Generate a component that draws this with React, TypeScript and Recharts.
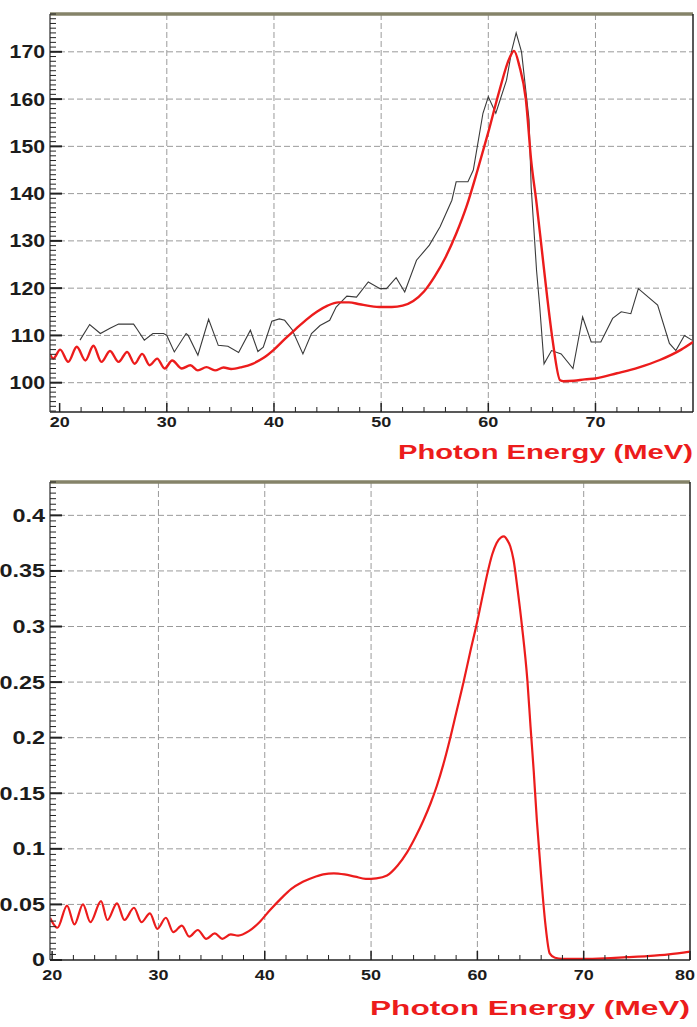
import React from 'react';
import { LineChart, Line, XAxis, YAxis, CartesianGrid, ReferenceLine } from 'recharts';

// upper panel: measured spectrum (black) vs simulated (red), counts
const measured: [number, number][] = [
    [21.9, 109.0], [22.8, 112.3], [23.8, 110.4], [24.7, 111.5], [25.5, 112.4], [26.9, 112.4],
    [27.2, 111.4], [27.9, 109.0], [28.7, 110.4], [29.7, 110.4], [30.0, 110.0], [30.7, 106.5],
    [31.8, 110.4], [32.0, 110.0], [32.9, 105.8], [33.9, 113.4], [34.8, 107.9], [35.7, 107.7],
    [36.7, 106.4], [37.8, 111.1], [38.5, 106.6], [39.0, 107.5], [39.8, 113.0], [40.5, 113.5],
    [41.0, 113.2], [41.7, 111.2], [42.7, 106.1], [43.5, 110.4], [44.3, 112.1], [45.2, 113.2],
    [45.8, 116.0], [46.8, 118.3], [47.7, 118.1], [48.8, 121.3], [49.9, 119.9], [50.5, 119.9],
    [51.4, 122.2], [52.2, 119.2], [53.3, 125.9], [54.5, 129.1], [55.5, 133.0], [56.6, 138.6],
    [57.0, 142.5], [58.1, 142.5], [58.6, 145.0], [59.5, 157.0], [60.0, 160.5], [60.7, 157.0],
    [61.7, 164.0], [62.2, 170.4], [62.6, 174.0], [63.1, 170.0], [63.8, 155.6], [64.0, 141.4],
    [64.5, 123.8], [64.8, 116.0], [65.2, 104.0], [65.9, 106.8], [66.8, 106.1], [67.9, 103.0],
    [68.8, 113.9], [69.6, 108.6], [70.5, 108.6], [71.6, 113.6], [72.4, 115.0], [73.3, 114.6],
    [74.0, 119.9], [75.8, 116.4], [76.9, 108.3], [77.5, 106.8], [78.3, 110.0], [79.0, 109.0],
];

const simulatedTop: [number, number][] = [
    [19.1, 106.0], [19.4, 105.1], [20.05, 107.0], [20.8, 104.4], [21.6, 107.6], [22.4, 104.7],
    [23.15, 107.8], [23.9, 104.4], [24.7, 106.7], [25.5, 104.4], [26.3, 106.5], [27.0, 104.0],
    [27.7, 106.1], [28.4, 103.7], [29.1, 105.1], [29.8, 103.0], [30.5, 104.7], [31.4, 103.0],
    [32.2, 103.7], [32.9, 102.6], [33.7, 103.3], [34.5, 102.6], [35.3, 103.2], [36.0, 102.9],
    [37.0, 103.3], [38.0, 104.0], [39.0, 105.2], [40.0, 107.0], [41.0, 109.2], [42.0, 111.3],
    [43.0, 113.3], [44.0, 115.0], [45.0, 116.3], [46.0, 117.0], [47.0, 117.0], [48.0, 116.6],
    [49.0, 116.2], [50.0, 116.0], [51.0, 116.0], [52.0, 116.3], [53.0, 117.3], [54.0, 119.3],
    [55.0, 122.5], [56.0, 126.5], [57.0, 131.5], [58.0, 137.5], [59.0, 145.0], [60.0, 153.0],
    [61.0, 161.5], [62.0, 168.8], [62.4, 170.2], [62.9, 167.0], [63.5, 160.0], [64.0, 147.0],
    [64.5, 138.0], [65.0, 128.0], [65.5, 118.0], [66.0, 109.0], [66.7, 100.5], [67.0, 100.3],
    [68.0, 100.4], [69.0, 100.7], [70.0, 100.9], [72.0, 102.0], [74.0, 103.2], [76.0, 104.8],
    [78.0, 107.0], [79.1, 108.6],
];

// lower panel: simulated spectrum, probability
const simulatedBottom: [number, number][] = [
    [19.8, 0.038], [20.5, 0.029], [21.4, 0.049], [22.1, 0.032], [22.9, 0.050], [23.6, 0.034],
    [24.6, 0.053], [25.2, 0.036], [26.1, 0.051], [26.8, 0.036], [27.7, 0.047], [28.4, 0.034],
    [29.2, 0.042], [29.9, 0.028], [30.7, 0.038], [31.4, 0.025], [32.2, 0.031], [32.9, 0.021],
    [33.7, 0.027], [34.5, 0.019], [35.3, 0.024], [36.0, 0.019], [36.8, 0.023], [37.5, 0.022],
    [38.5, 0.026], [39.5, 0.034], [40.5, 0.045], [41.5, 0.055], [42.5, 0.064], [43.5, 0.070],
    [44.5, 0.074], [45.5, 0.077], [46.5, 0.078], [47.5, 0.077], [48.5, 0.075], [49.5, 0.073],
    [50.5, 0.0735], [51.5, 0.076], [52.5, 0.085], [53.4, 0.097], [54.2, 0.111], [54.9, 0.125],
    [55.6, 0.141], [56.2, 0.157], [56.8, 0.176], [57.4, 0.198], [58.0, 0.222], [58.7, 0.250],
    [59.3, 0.276], [60.0, 0.305], [60.5, 0.328], [60.9, 0.346], [61.4, 0.365], [61.8, 0.375],
    [62.2, 0.380], [62.5, 0.381], [62.8, 0.378], [63.1, 0.372], [63.4, 0.360], [63.8, 0.332],
    [64.2, 0.300], [64.7, 0.252], [65.0, 0.210], [65.3, 0.170], [65.6, 0.125], [66.0, 0.075],
    [66.4, 0.032], [66.8, 0.006], [67.3, 0.002], [68.0, 0.001], [70.0, 0.001], [72.0, 0.0015],
    [74.0, 0.0025], [76.0, 0.0035], [78.0, 0.005], [80.0, 0.0075],
];

const topXTicks = [20, 30, 40, 50, 60, 70];
const topYTicks = [100, 110, 120, 130, 140, 150, 160, 170];
const bottomXTicks = [20, 30, 40, 50, 60, 70, 80];
const bottomYTicks = [0, 0.05, 0.1, 0.15, 0.2, 0.25, 0.3, 0.35, 0.4];
const gridX = [30, 40, 50, 60, 70];
const axisTitle = 'Photon Energy (MeV)';

const toPoints = (rows: [number, number][]) => rows.map(([e, v]) => ({ e, v }));

// minor tick positions (ROOT-style subdivisions)
const steps = (from: number, to: number, step: number) => {
    const out: number[] = [];
    for (let i = 0; from + i * step <= to + 1e-9; i++) out.push(+(from + i * step).toFixed(4));
    return out;
};

const FONT = '"Liberation Sans", Arial, Helvetica, sans-serif';
const RED = '#ec1c1c';
const FRAME_TOP = '#858369';

const isMajor = (list: number[], v: number) => list.some(m => Math.abs(m - v) < 1e-6);

// tick line drawn inward + wide bold label for majors
const makeYTick = (majors: number[], stretch: number) =>
    // eslint-disable-next-line @typescript-eslint/no-explicit-any
    (props: any) => {
        const { x, y, payload } = props;
        const major = isMajor(majors, payload.value);
        return (
            <g>
                <line x1={x} x2={x + (major ? 12 : 6)} y1={y} y2={y} stroke="#222" strokeWidth={major ? 2 : 1} />
                {major && (
                    <g transform={`translate(${x - 5},${y}) scale(${stretch},1)`}>
                        <text x={0} y={0} dy="0.36em" textAnchor="end" fontSize={18} fontWeight="bold"
                            fontFamily={FONT} fill="#1c1c1c">{String(payload.value)}</text>
                    </g>
                )}
            </g>
        );
    };

const makeXTick = (majors: number[], gap: number, rightEdge: number) =>
    // eslint-disable-next-line @typescript-eslint/no-explicit-any
    (props: any) => {
        const { x, y, payload } = props;
        const major = isMajor(majors, payload.value);
        // keep a label that would run past the page edge inside it
        const tx = Math.min(x, rightEdge - 12);
        return (
            <g>
                <line x1={x} x2={x} y1={y} y2={y - (major ? 9 : 5)} stroke="#222" strokeWidth={major ? 1.5 : 1} />
                {major && (
                    <g transform={`translate(${tx},${y + gap}) scale(1.2,1)`}>
                        <text x={0} y={0} dy="0.36em" textAnchor="middle" fontSize={15} fontWeight="bold"
                            fontFamily={FONT} fill="#1c1c1c">{String(payload.value)}</text>
                    </g>
                )}
            </g>
        );
    };

interface PanelProps {
    top: number;
    height: number;
    marginTop: number;
    marginRight: number;
    xAxisHeight: number;
    xDomain: [number, number];
    yDomain: [number, number];
    xTicks: number[];
    yTicks: number[];
    xMinor: number[];
    yMinor: number[];
    xLabelGap: number;
    yStretch: number;
    children: React.ReactNode;
}

const Panel: React.FC<PanelProps> = (p) => (
    <div style={{ position: 'absolute', left: 0, top: p.top }}>
        <LineChart width={697} height={p.height} margin={{ top: p.marginTop, right: p.marginRight, bottom: 0, left: 0 }}>
            <CartesianGrid stroke="#9a9a9a" strokeDasharray="6 3"
                horizontalValues={p.yTicks.filter(t => t > p.yDomain[0] + 1e-6)} verticalValues={gridX} />
            <XAxis dataKey="e" type="number" domain={p.xDomain} allowDataOverflow ticks={p.xMinor}
                height={p.xAxisHeight} tickSize={0} tickMargin={0} tickLine={false}
                axisLine={{ stroke: '#222', strokeWidth: 1.5 }} tick={makeXTick(p.xTicks, p.xLabelGap, 697)} interval={0} />
            <YAxis type="number" domain={p.yDomain} allowDataOverflow ticks={p.yMinor}
                width={50} tickSize={0} tickMargin={0} tickLine={false}
                axisLine={{ stroke: '#555', strokeWidth: 1.5 }} tick={makeYTick(p.yTicks, p.yStretch)} interval={0} />
            {/* frame: olive top edge, thin right edge */}
            <ReferenceLine y={p.yDomain[1]} stroke={FRAME_TOP} strokeWidth={3.5} />
            <ReferenceLine x={p.xDomain[1]} stroke="#222" strokeWidth={1.5} />
            {p.children}
        </LineChart>
    </div>
);

export default function App() {
    return (
        <div style={{ position: 'absolute', left: 0, top: 0, width: 697, height: 1027, background: '#fff' }}>
            <Panel top={0} height={440} marginTop={14} marginRight={4} xAxisHeight={28}
                xDomain={[19.1, 79.1]} yDomain={[93.8, 178]} xTicks={topXTicks} yTicks={topYTicks}
                xMinor={steps(20, 78, 2)} yMinor={steps(94, 178, 1)} xLabelGap={10} yStretch={1.18}>
                <Line data={toPoints(measured)} dataKey="v" type="linear" stroke="#3a3a3a" strokeWidth={1.1}
                    dot={false} isAnimationActive={false} />
                <Line data={toPoints(simulatedTop)} dataKey="v" type="monotone" stroke={RED} strokeWidth={2.4}
                    dot={false} isAnimationActive={false} />
            </Panel>
            <Panel top={470} height={557} marginTop={12} marginRight={7} xAxisHeight={67}
                xDomain={[19.8, 80]} yDomain={[0, 0.43]} xTicks={bottomXTicks} yTicks={bottomYTicks}
                xMinor={steps(20, 80, 2)} yMinor={steps(0, 0.43, 0.005)} xLabelGap={15} yStretch={1.3}>
                <Line data={toPoints(simulatedBottom)} dataKey="v" type="monotone" stroke={RED} strokeWidth={2.2}
                    dot={false} isAnimationActive={false} />
            </Panel>
            <svg width={697} height={1027} style={{ position: 'absolute', left: 0, top: 0, pointerEvents: 'none' }}>
                <text x={693} y={459} textAnchor="end" fontSize={20} fontWeight="bold" fontFamily={FONT}
                    fill={RED} textLength={295} lengthAdjust="spacingAndGlyphs">{axisTitle}</text>
                <text x={690} y={1015} textAnchor="end" fontSize={21} fontWeight="bold" fontFamily={FONT}
                    fill={RED} textLength={320} lengthAdjust="spacingAndGlyphs">{axisTitle}</text>
            </svg>
        </div>
    );
}
